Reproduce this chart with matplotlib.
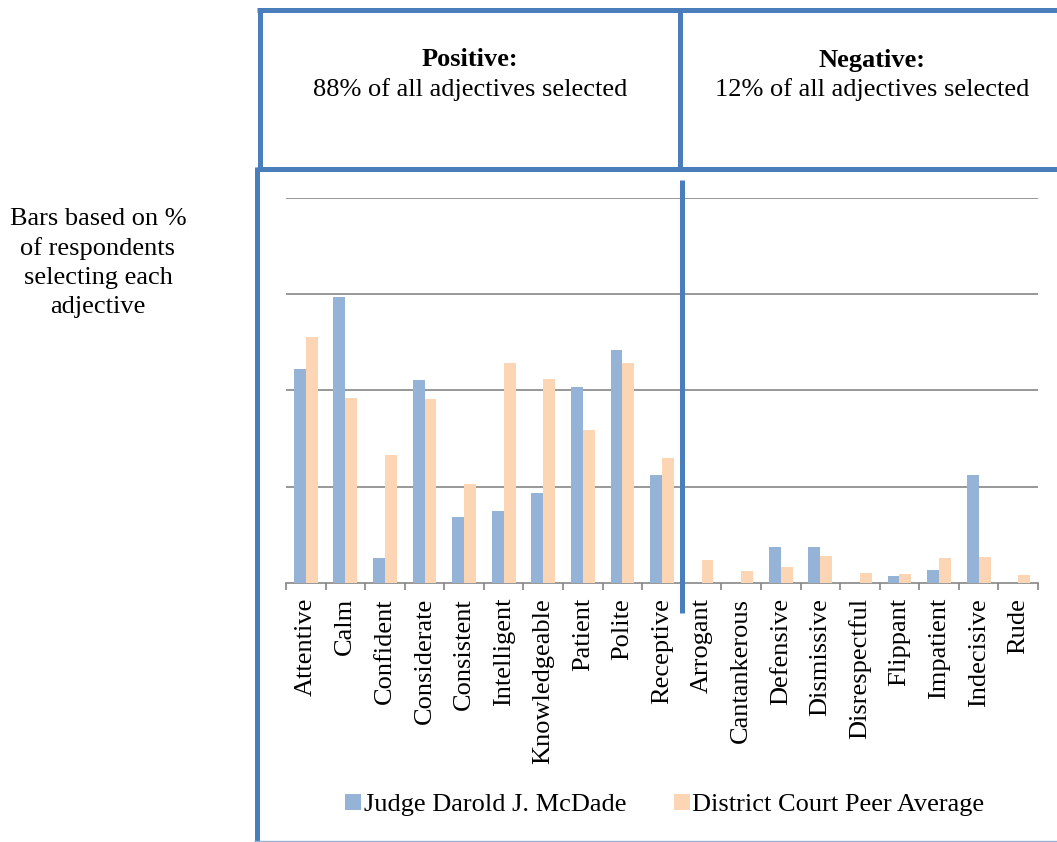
import matplotlib.pyplot as plt
import numpy as np
from matplotlib.lines import Line2D
from matplotlib.transforms import blended_transform_factory

adjectives = ["Attentive", "Calm", "Confident", "Considerate", "Consistent",
              "Intelligent", "Knowledgeable", "Patient", "Polite", "Receptive",
              "Arrogant", "Cantankerous", "Defensive", "Dismissive",
              "Disrespectful", "Flippant", "Impatient", "Indecisive", "Rude"]
judge = [44.5, 59.4, 5.1, 42.2, 13.7, 15.0, 18.7, 40.8, 48.3, 22.4,
         0.0, 0.0, 7.5, 7.5, 0.0, 1.4, 2.6, 22.4, 0.0]
peers = [51.0, 38.4, 26.5, 38.1, 20.6, 45.6, 42.3, 31.7, 45.6, 26.0,
         4.7, 2.4, 3.2, 5.6, 2.0, 1.8, 5.1, 5.4, 1.6]
series_names = ["Judge Darold J. McDade", "District Court Peer Average"]
grid_values = [0, 20, 40, 60, 80]

W, H = 1057, 842
FRAME = "#4A7EBB"
BLUE = "#95B3D7"
PEACH = "#FCD5B5"
GRID = "#868686"
SERIF = "Liberation Serif"
FS = 19


def px(x, y):
    # pixel coords (origin top-left) -> figure fraction
    return x / W, 1 - y / H


def frame_line(fig, x0, y0, x1, y1, lw=3.6, color=FRAME):
    (a, b), (c, d) = px(x0, y0), px(x1, y1)
    fig.add_artist(Line2D([a, c], [b, d], color=color, lw=lw,
                          solid_capstyle="butt", transform=fig.transFigure))


def main():
    fig = plt.figure(figsize=(W / 100, H / 100), dpi=100)

    left, right, top, bottom = 286, 1038, 198, 582.7
    ax = fig.add_axes([left / W, 1 - bottom / H, (right - left) / W, (bottom - top) / H])

    x = np.arange(len(adjectives))
    bw = 0.3
    ax.bar(x - bw / 2, judge, bw, color=BLUE, label=series_names[0], zorder=3)
    ax.bar(x + bw / 2, peers, bw, color=PEACH, label=series_names[1], zorder=3)

    ax.set_xlim(-0.5, len(adjectives) - 0.5)
    ax.set_ylim(grid_values[0], grid_values[-1])
    for g in grid_values[1:]:
        ax.axhline(g, color=GRID, lw=1.2, zorder=1)

    for s in ["top", "right", "left"]:
        ax.spines[s].set_visible(False)
    ax.spines["bottom"].set_color(GRID)
    ax.spines["bottom"].set_linewidth(1.2)
    ax.set_yticks([])

    ax.set_xticks(x)
    ax.set_xticklabels(adjectives, rotation=90, family=SERIF, fontsize=FS, va="top")
    ax.set_xticks(np.arange(len(adjectives) + 1) - 0.5, minor=True)
    ax.tick_params(axis="x", which="major", length=0, pad=11)
    ax.tick_params(axis="x", which="minor", length=5, color=GRID, width=1.2)

    # divider between positive and negative adjectives
    trans = blended_transform_factory(ax.transData, ax.transAxes)
    ax.plot([9.5, 9.5], [1.047, -0.079], color=FRAME, lw=3.6,
            transform=trans, clip_on=False, solid_capstyle="butt", zorder=5)

    ax.legend(loc="center", bbox_to_anchor=px(665, 805),
              bbox_transform=fig.transFigure, ncol=2, frameon=False,
              prop={"family": SERIF, "size": FS},
              handlelength=0.6, handleheight=0.6, handletextpad=0.1,
              columnspacing=1.8)

    # header boxes
    frame_line(fig, 257, 9.5, W, 9.5)
    frame_line(fig, 260, 7.7, 260, 168.5)
    frame_line(fig, 680, 7.7, 680, 168.5)
    frame_line(fig, 257, 168.5, W, 168.5)
    frame_line(fig, 257, 166.7, 257, H)
    frame_line(fig, 254, 841, W, 841, lw=1.0, color=BLUE)

    fig.text(*px(470, 60), "Positive:", ha="center", va="center",
             family=SERIF, fontsize=FS, fontweight="bold")
    fig.text(*px(470, 90), "88% of all adjectives selected", ha="center",
             va="center", family=SERIF, fontsize=FS)
    fig.text(*px(872, 60), "Negative:", ha="center", va="center",
             family=SERIF, fontsize=FS, fontweight="bold")
    fig.text(*px(872, 90), "12% of all adjectives selected", ha="center",
             va="center", family=SERIF, fontsize=FS)

    fig.text(*px(98, 263), "Bars based on %\nof respondents\nselecting each\nadjective",
             ha="center", va="center", family=SERIF, fontsize=FS,
             linespacing=1.4)

    fig.savefig("out.png", dpi=100)


if __name__ == "__main__":
    main()
